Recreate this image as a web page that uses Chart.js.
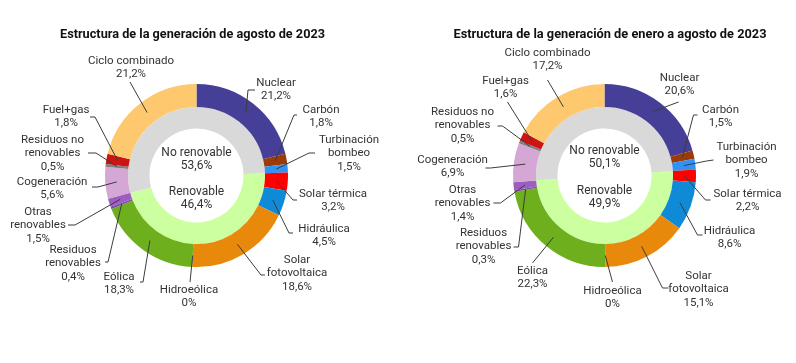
<!DOCTYPE html>
<html>
<head>
<meta charset="utf-8">
<title>Estructura de la generación 2023</title>
<script src="https://cdn.jsdelivr.net/npm/chart.js@4.4.0/dist/chart.umd.min.js"></script>
<style>
    body { margin: 0; background: #fff; }
    .wrap { position: relative; width: 796px; height: 363px; }
    canvas { position: absolute; top: 0; }
    #chartAgosto { left: 0; }
    #chartAcumulado { left: 398px; }
</style>
</head>
<body>
<div class="wrap">
    <canvas id="chartAgosto" width="398" height="363"></canvas>
    <canvas id="chartAcumulado" width="398" height="363"></canvas>
</div>
<script>
// Technologies, clockwise from the top
var categories = ["Nuclear", "Carbón", "Turbinación bombeo", "Solar térmica", "Hidráulica", "Solar fotovoltaica", "Hidroeólica", "Eólica", "Residuos renovables", "Otras renovables", "Cogeneración", "Residuos no renovables", "Fuel+gas", "Ciclo combinado"];
var agostoValues = [21.2, 1.8, 1.5, 3.2, 4.5, 18.6, 0, 18.3, 0.4, 1.5, 5.6, 0.5, 1.8, 21.2];
var acumuladoValues = [20.6, 1.5, 1.9, 2.2, 8.6, 15.1, 0, 22.3, 0.3, 1.4, 6.9, 0.5, 1.6, 17.2];

// Inner ring: starts where the renewables start (Solar térmica)
var groupCategories = ["Renovable", "No renovable"];
var agostoGroups = [46.4, 53.6];
var acumuladoGroups = [49.9, 50.1];
var firstRenewable = categories.indexOf("Solar térmica");

var titleAgosto = "Estructura de la generación de agosto de 2023";
var titleAcumulado = "Estructura de la generación de enero a agosto de 2023";

// How the names are broken on the picture
var labelLines = [["Nuclear"], ["Carbón"], ["Turbinación", "bombeo"], ["Solar térmica"], ["Hidráulica"], ["Solar", "fotovoltaica"], ["Hidroeólica"], ["Eólica"], ["Residuos", "renovables"], ["Otras", "renovables"], ["Cogeneración"], ["Residuos no", "renovables"], ["Fuel+gas"], ["Ciclo combinado"]];

var outerColors = ["#453f98", "#9c3a08", "#2f93f5", "#ff0000", "#0f8ad6", "#e8890c", "#3f7fbf", "#6eaf1e", "#7d4fa0", "#9d5ec4", "#d5a7d4", "#808080", "#cc1414", "#fdc86e"];
var innerColors = ["#ccffa0", "#d9d9d9"];

// Label layout, relative to the centre of each doughnut: text, start of leader, elbow
var placesAgosto = [
    { text: [79.5, -92.5], start: [58.5, -85.5], elbow: [51.5, -85.5] },
    { text: [124.5, -65.5], start: [100.5, -60.5], elbow: [97.5, -60.5] },
    { text: [152.5, -35.5], start: [118.5, -22.5], elbow: [112.5, -22.5] },
    { text: [136.5, 18.5], start: [100.5, 24.5], elbow: [96.5, 24.5] },
    { text: [127.5, 53.5], start: [96.5, 57.5], elbow: [92.5, 57.5] },
    { text: [100.5, 84.5], start: [68.5, 99.5], elbow: [64.5, 99.5] },
    { text: [-7.5, 114.5], start: [-6.5, 106.5] },
    { text: [-77.5, 101.5], start: [-56.5, 106.5], elbow: [-53.5, 106.5] },
    { text: [-123.5, 74.5], start: [-91.5, 86.5], elbow: [-88.5, 86.5] },
    { text: [-158.5, 36.5], start: [-128.5, 49.5], elbow: [-121.5, 49.5] },
    { text: [-144.5, 6.5], start: [-104.5, 11.5], elbow: [-98.5, 11.5] },
    { text: [-144, -35.5], start: [-108.5, -22.5], elbow: [-100.5, -22.5] },
    { text: [-130.5, -65.5], start: [-106.5, -58.5], elbow: [-101.5, -58.5] },
    { text: [-65.5, -114.5], start: [-66.5, -93.5] }
];
var placesAcumulado = [
    { text: [75, -97.5], start: [74, -73.5] },
    { text: [116, -65.5], start: [93, -60.5], elbow: [89, -60.5] },
    { text: [142, -28.5], start: [109, -15.5], elbow: [102, -14.5] },
    { text: [143, 18.5], start: [106, 24.5], elbow: [101, 24.5] },
    { text: [125, 55.5], start: [98, 59.5], elbow: [93, 59.5] },
    { text: [94, 100.5], start: [64, 112.5], elbow: [58, 112.5] },
    { text: [8, 115.5], start: [8, 106.5] },
    { text: [-72, 95.5], start: [-72, 87.5] },
    { text: [-121, 57.5], start: [-91, 71.5], elbow: [-86, 71.5] },
    { text: [-142, 14.5], start: [-111, 27.5], elbow: [-104, 27.5] },
    { text: [-152, -15.5], start: [-119, -7.5], elbow: [-114, -7.5] },
    { text: [-142, -63.5], start: [-107, -49.5], elbow: [-102, -49.5] },
    { text: [-99, -94.5], start: [-97, -73.5] },
    { text: [-57, -122.5], start: [-57, -95.5] }
];

// 21.2 -> "21,2%"
function formatPercent(v) {
    return v.toString().replace(".", ",") + "%";
}

function sum(list, upTo) {
    var s = 0;
    for (var i = 0; i < upTo; i++) {
        s += list[i];
    }
    return s;
}

// Draws the title, the labels with their leader lines and the text in the hole.
var labelPlugin = {
    id: "labelPlugin",
    afterDraw: function(chart) {
        var cfg = chart.options.plugins.labelPlugin;
        var ctx = chart.ctx;
        var arcs = chart.getDatasetMeta(0).data;
        var values = chart.data.datasets[0].data;
        var groups = chart.data.datasets[1].data;
        var cx = arcs[0].x;
        var cy = arcs[0].y;

        ctx.save();
        ctx.textAlign = "center";
        ctx.textBaseline = "middle";

        // Title, squeezed a little like the condensed font of the original
        ctx.font = "bold 13px Roboto";
        ctx.fillStyle = "#111";
        var w = ctx.measureText(cfg.title).width;
        ctx.save();
        ctx.translate(cfg.titleX, cfg.titleY);
        ctx.scale(cfg.titleWidth / w, 1);
        ctx.fillText(cfg.title, 0, 0);
        ctx.restore();

        // Leader lines end in the middle of their slice
        ctx.strokeStyle = "#3c3c3c";
        ctx.lineWidth = 1;
        for (var i = 0; i < arcs.length; i++) {
            var place = cfg.places[i];
            var end = arcs[i].getCenterPoint();
            ctx.beginPath();
            ctx.moveTo(cx + place.start[0], cy + place.start[1]);
            if (place.elbow) {
                ctx.lineTo(cx + place.elbow[0], cy + place.elbow[1]);
            }
            ctx.lineTo(end.x, end.y);
            ctx.stroke();
        }

        ctx.font = "11.5px Roboto";
        ctx.fillStyle = "#333";
        for (i = 0; i < arcs.length; i++) {
            var lines = labelLines[i].concat([formatPercent(values[i])]);
            for (var j = 0; j < lines.length; j++) {
                ctx.fillText(lines[j], cx + cfg.places[i].text[0], cy + cfg.places[i].text[1] + j * 13.5);
            }
        }

        // Renovable / No renovable in the hole
        ctx.font = "12px Roboto";
        for (i = 0; i < groups.length; i++) {
            ctx.fillText(groupCategories[i], cx, cy + cfg.centerOffsets[i]);
            ctx.fillText(formatPercent(groups[i]), cx, cy + cfg.centerOffsets[i] + 13);
        }
        ctx.restore();
    }
};

function makeChart(id, values, groups, title, places, padding, titleX, titleWidth, centerOffsets) {
    var ctx = document.getElementById(id).getContext("2d");
    var innerRotation = sum(values, firstRenewable) / sum(values, values.length) * 360;
    return new Chart(ctx, {
        type: "doughnut",
        data: {
            labels: categories,
            datasets: [{
                data: values,
                backgroundColor: outerColors,
                borderWidth: 0,
                weight: 23
            }, {
                data: groups,
                backgroundColor: innerColors,
                borderWidth: 0,
                rotation: innerRotation,
                weight: 21.5
            }]
        },
        options: {
            responsive: false,
            animation: false,
            cutout: "51.4%",
            layout: { padding: padding },
            plugins: {
                legend: { display: false },
                tooltip: { enabled: false },
                labelPlugin: {
                    title: title,
                    titleX: titleX,
                    titleY: 35,
                    titleWidth: titleWidth,
                    places: places,
                    centerOffsets: centerOffsets
                }
            }
        },
        plugins: [labelPlugin]
    });
}

makeChart("chartAgosto", agostoValues, agostoGroups, titleAgosto, placesAgosto,
    { left: 105, right: 110, top: 84, bottom: 96 }, 192.5, 265, [16.5, -22.5]);
makeChart("chartAcumulado", acumuladoValues, acumuladoGroups, titleAcumulado, placesAcumulado,
    { left: 115, right: 100, top: 84, bottom: 96 }, 212, 313, [15, -24.5]);
</script>
</body>
</html>
